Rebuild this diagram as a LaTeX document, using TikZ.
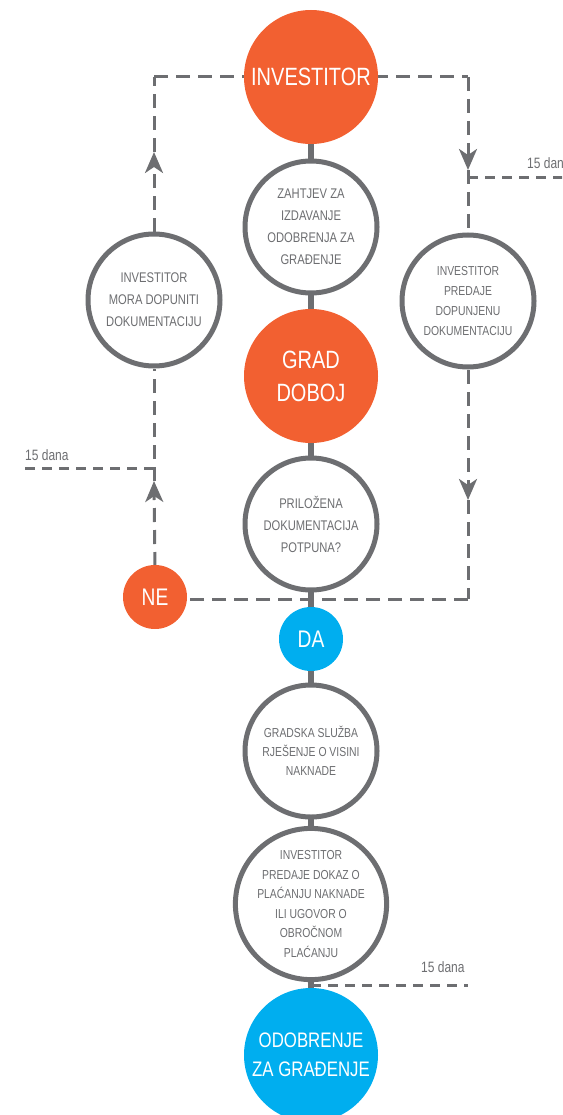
\documentclass[tikz,border=0pt]{standalone}
\usepackage{fontspec}
\setmainfont{Liberation Sans}[FakeStretch=0.8]
\usepackage{tikz}
\usetikzlibrary{positioning,arrows.meta}

\definecolor{narandz}{HTML}{F26031}
\definecolor{plava}{HTML}{00AEEF}
\definecolor{siva}{HTML}{6D6E71}

\begin{document}
\begin{tikzpicture}[x=1pt,y=-1pt,
    korak/.style={circle,draw=siva,line width=5pt,fill=white,minimum size=132pt,inner sep=0pt,
        align=center,text=siva,font=\fontsize{14}{22}\selectfont},
    narandzasti/.style={circle,fill=narandz,minimum size=134pt,inner sep=0pt,
        align=center,text=white,font=\fontsize{25}{33}\selectfont},
    plavi/.style={circle,fill=plava,minimum size=134pt,inner sep=0pt,
        align=center,text=white,font=\fontsize{21}{29}\selectfont},
    malikrug/.style={circle,minimum size=64pt,inner sep=0pt,text=white,font=\fontsize{24}{24}\selectfont},
    veza/.style={draw=siva,line width=6pt},
    isprek/.style={draw=siva,line width=3pt,dash pattern=on 14pt off 8pt},
    rok/.style={draw=siva,line width=3pt,dash pattern=on 10pt off 7pt},
    strelica/.style={isprek,-{Stealth[length=21pt,width=18pt,inset=6pt]}},
    dani/.style={anchor=west,text=siva,font=\fontsize{15}{15}\selectfont,inner sep=0pt}
    ]
    \useasboundingbox (0,0) rectangle (562,1115);
    \clip (0,0) rectangle (562,1115);

    \coordinate (goreLijevo) at (154,77);
    \coordinate (goreDesno) at (468,77);
    \coordinate (doleDesno) at (468,599);
    \coordinate (strL1) at (154,152);
    \coordinate (strL2) at (154,481);
    \coordinate (strD1) at (468,170);
    \coordinate (strD2) at (468,500);
    \coordinate (rokL) at (154,468);
    \coordinate (rokD) at (468,178);
    \coordinate (rokL0) at (25,468);
    \coordinate (rokD0) at (570,178);
    \coordinate (rokO) at (311,985);
    \coordinate (rokO0) at (468,985);

% dashed loops
\draw[isprek] (goreLijevo) -- (goreDesno);
\draw[strelica] (154,232) -- (strL1);
\draw[isprek] (strL1) -- (goreLijevo);
\draw[strelica] (goreDesno) -- (strD1);
\draw[isprek] (strD1) -- (468,234);
\draw[strelica] (468,370) -- (strD2);
\draw[isprek] (strD2) -- (doleDesno);
\draw[isprek] (doleDesno) -- (155,599);
\draw[strelica] (155,566) -- (strL2);
\draw[isprek] (strL2) -- (154,369);
\draw[rok] (rokL0) -- (rokL);
\draw[rok] (rokD) -- (rokD0);
\draw[rok] (rokO) -- (rokO0);

% main column
\draw[veza] (311,77) -- (311,1055);

    \node[narandzasti] (investitor) at (311,77) {INVESTITOR};
    \node[korak] (zahtjev) at (311,227) {ZAHTJEV ZA\\IZDAVANJE\\ODOBRENJA ZA\\GRAĐENJE};
    \node[narandzasti] (grad) at (311,376) {GRAD\\DOBOJ};
    \node[korak] (prilozena) at (311,524) {PRILOŽENA\\DOKUMENTACIJA\\POTPUNA?};
    \node[malikrug,fill=narandz] (ne) at (155,597) {NE};
    \node[malikrug,fill=plava] (da) at (311,639) {DA};
    \node[korak,font=\fontsize{13}{19}\selectfont] (gradska) at (311,751) {GRADSKA SLUŽBA\\RJEŠENJE O VISINI\\NAKNADE};
    \node[korak,minimum size=145pt,font=\fontsize{13}{19.5}\selectfont] (dokaz) at (311,904)
        {INVESTITOR\\PREDAJE DOKAZ O\\PLAĆANJU NAKNADE\\ILI UGOVOR O\\OBROČNOM\\PLAĆANJU};
    \node[plavi] (odobrenje) at (311,1055) {ODOBRENJE\\ZA GRAĐENJE};
    \node[korak] (dopuniti) at (154,300) {INVESTITOR\\MORA DOPUNITI\\DOKUMENTACIJU};
    \node[korak,font=\fontsize{13}{20}\selectfont] (predaje) at (468,301) {INVESTITOR\\PREDAJE\\DOPUNJENU\\DOKUMENTACIJU};

    \node[dani] (daniL) at (25,455) {15 dana};
    \node[dani] (daniD) at (527,163) {15 dana};
    \node[dani] (daniO) at (421,967) {15 dana};

\end{tikzpicture}
\end{document}
